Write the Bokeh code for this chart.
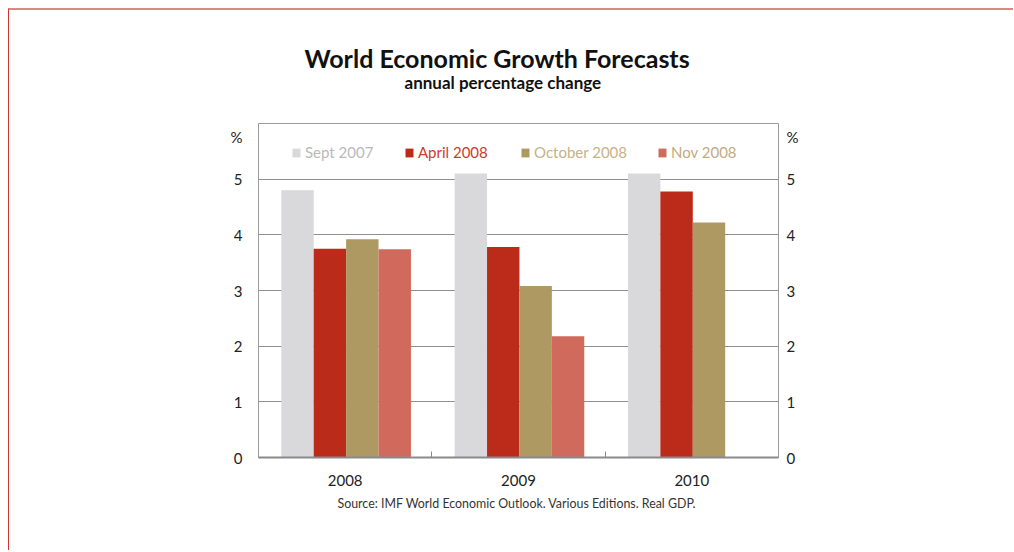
import numpy as np
from bokeh.plotting import figure
from bokeh.models import (Range1d, LinearAxis, FixedTicker, Legend, LegendItem, Title)
from bokeh.embed import file_html
from bokeh.resources import INLINE

# ---- data ----
years = ["2008", "2009", "2010"]
series_names = ["Sept 2007", "April 2008", "October 2008", "Nov 2008"]
sept_2007 = [4.8, 5.1, 5.1]
april_2008 = [3.75, 3.78, 4.78]
october_2008 = [3.92, 3.08, 4.22]
nov_2008 = [3.74, 2.18]  # no 2010 value
y_ticks = [0, 1, 2, 3, 4, 5]

bar_colors = ["#d9d9db", "#bb2b19", "#ae9962", "#d06a5c"]
text_colors = ["#b9b9b9", "#cc3b2b", "#c7b287", "#c2aa82"]
FONT = "Lato"

p = figure(width=1005, height=542, output_backend="svg", toolbar_location=None,
           x_range=Range1d(0, 3), y_range=Range1d(0, 6),
           min_border_left=249, min_border_right=236,
           min_border_top=113, min_border_bottom=95,
           background_fill_color="white", border_fill_color="white")
p.styles = {"margin-top": "8px", "margin-left": "8px",
            "border-top": "2px solid #d98a80", "border-left": "1px solid #d0342c"}

p.xaxis.visible = False
p.yaxis.visible = False
p.xgrid.visible = False
p.ygrid.ticker = FixedTicker(ticks=y_ticks[1:])
p.ygrid.grid_line_color = "#8f8f8f"
p.ygrid.grid_line_width = 1
p.outline_line_color = "#9a9a9a"
p.outline_line_width = 1

# y axes (left & right) with "%" unit label at top
pct_pos = 5.75
yticks_all = y_ticks + [pct_pos]
for side, standoff in (("left", 10), ("right", 2)):
    ax = LinearAxis(ticker=FixedTicker(ticks=yticks_all),
                    major_label_overrides={pct_pos: "%"})
    ax.axis_line_color = None
    ax.major_tick_line_color = None
    ax.minor_tick_line_color = None
    ax.major_label_text_font = FONT
    ax.major_label_text_font_size = "15px"
    ax.major_label_text_color = "#222222"
    ax.major_label_standoff = standoff
    p.add_layout(ax, side)

# x axis with category labels at centers and ticks at boundaries
centers = [i + 0.5 for i in range(len(years))]
bounds = [float(i) for i in range(1, len(years))]
xax = LinearAxis(ticker=FixedTicker(ticks=centers, minor_ticks=bounds),
                 major_label_overrides={c: y for c, y in zip(centers, years)})
xax.axis_line_color = "#8a8a8a"
xax.axis_line_width = 2
xax.major_tick_line_color = None
xax.minor_tick_line_color = "#8a8a8a"
xax.minor_tick_in = 6
xax.minor_tick_out = 0
xax.major_label_text_font = FONT
xax.major_label_text_font_size = "15px"
xax.major_label_text_color = "#222222"
xax.major_label_standoff = 11
p.add_layout(xax, "below")

# bars
bar_w = 0.187
offsets = [-0.275, -0.088, 0.099, 0.286]
all_series = [sept_2007, april_2008, october_2008, nov_2008]
renderers = []
for vals, off, col in zip(all_series, offsets, bar_colors):
    xs = np.arange(len(vals)) + 0.5 + off
    r = p.vbar(x=xs, top=vals, bottom=0, width=bar_w, fill_color=col, line_color=None)
    renderers.append(r)

# legend: one legend per item so each label gets its own colour
leg_x = [33, 146, 262, 399]
for name, r, tc, lx in zip(series_names, renderers, text_colors, leg_x):
    leg = Legend(items=[LegendItem(label=name, renderers=[r])], location=(lx, 296),
                 orientation="horizontal", border_line_color=None,
                 background_fill_alpha=0, padding=0, margin=0, spacing=0,
                 glyph_width=10, glyph_height=11, label_standoff=4,
                 label_height=18, label_text_font=FONT, label_text_font_size="15px",
                 label_text_color=tc, label_text_baseline="middle")
    p.add_layout(leg)

# titles (first added sits closest to the frame) and source
p.add_layout(Title(text=" ", standoff=28, text_font_size="1px"), "above")
p.add_layout(Title(text="annual percentage change", align="left", offset=146,
                   standoff=0, text_font=FONT, text_font_style="bold",
                   text_font_size="17px", text_color="#111111"), "above")
p.add_layout(Title(text="World Economic Growth Forecasts", align="left", offset=46,
                   standoff=-6, text_font=FONT, text_font_style="bold",
                   text_font_size="25px", text_color="#111111"), "above")
p.add_layout(Title(text="Source: IMF World Economic Outlook. Various Editions. Real GDP.",
                   align="left", offset=79, standoff=11, text_font=FONT,
                   text_font_style="normal", text_font_size="12.4px",
                   text_color="#333333"), "below")

open("out.html", "w").write(file_html(p, INLINE))
